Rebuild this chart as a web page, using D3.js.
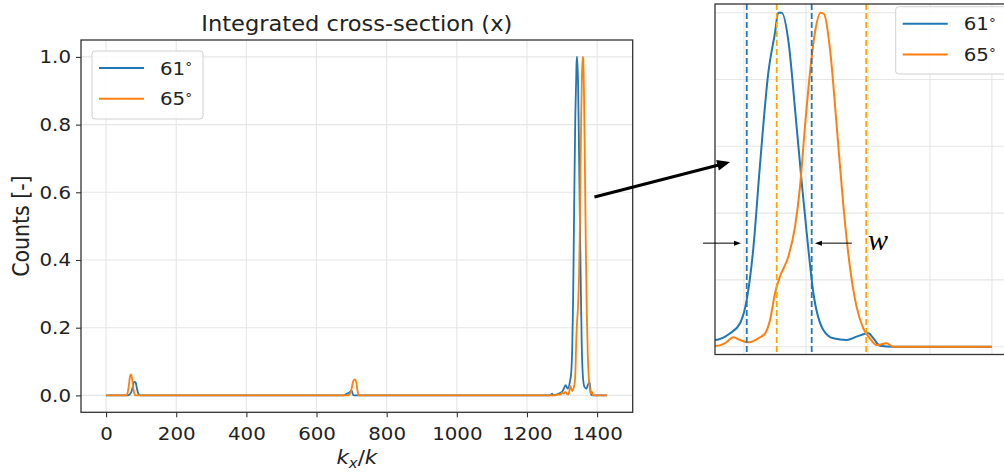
<!DOCTYPE html>
<html>
<head>
<meta charset="utf-8">
<script src="https://cdn.jsdelivr.net/npm/d3@7"></script>
<style>
  body { margin: 0; background: #fff; }
  svg { display: block; font-family: "DejaVu Sans", sans-serif; }
</style>
</head>
<body>
<div id="chart"></div>
<script>
// values
const kx61 = [0, 62, 67, 72, 76, 79, 82, 85, 88, 92, 96, 660, 678, 685, 692, 697, 700, 703, 706,
  1265, 1270, 1272, 1274, 1290, 1300, 1305, 1310, 1316.3, 1322.4, 1326.4, 1329.1, 1331.7, 1334.4,
  1337.8, 1340.5, 1341.8, 1343.2, 1346, 1348.6, 1351.3, 1353.3, 1356, 1360, 1364, 1369.4, 1373.4,
  1378.2, 1380.2, 1382.8, 1388.2, 1428];
const y61 = [0, 0, 0.003, 0.01, 0.025, 0.038, 0.04, 0.036, 0.02, 0.005, 0, 0, 0, 0.004, 0.008, 0.012, 0.015, 0.005, 0,
  0, 0.003, 0.005, 0, 0.005, 0.01, 0.02, 0.03, 0.02, 0.04, 0.07, 0.14, 0.29, 0.54,
  0.82, 0.94, 1.0, 1.0, 0.91, 0.71, 0.49, 0.34, 0.16, 0.05, 0.025, 0.02, 0.03,
  0.04, 0.025, 0.003, 0, 0];

const kx65 = [0, 58, 62, 65, 68, 71, 74, 77, 80, 84, 690, 698, 702, 705, 709, 713, 716, 720,
  1280, 1290, 1295, 1300, 1305, 1310, 1316.3, 1320.3, 1323.7, 1326.4, 1329.7, 1333.8, 1336.5, 1338.5,
  1340.5, 1342.5, 1345.9, 1348.6, 1350.6, 1352.6, 1354.6, 1356.6, 1358.9, 1360.3, 1362.7, 1365.4,
  1368.1, 1370.7, 1373.4, 1376.1, 1378.8, 1381.5, 1385.5, 1388.2, 1428];
const y65 = [0, 0, 0.01, 0.03, 0.055, 0.062, 0.05, 0.025, 0.008, 0, 0, 0.01, 0.03, 0.043, 0.047, 0.04, 0.02, 0,
  0, 0.003, 0.002, 0.008, 0.005, 0.01, 0.002, 0.01, 0.028, 0.02, 0.013, 0.025, 0.04, 0.08,
  0.16, 0.21, 0.27, 0.36, 0.48, 0.66, 0.82, 0.94, 1.0, 0.996, 0.89, 0.66,
  0.42, 0.24, 0.12, 0.055, 0.025, 0.005, 0.01, 0, 0];

const labels = ["61", "65"];
const colors = ["#1f77b4", "#ff7f0e"];
const xTicks = [0, 200, 400, 600, 800, 1000, 1200, 1400];
const yTicks = [0, 0.2, 0.4, 0.6, 0.8, 1.0];
const insetGridX = [1328, 1353, 1378, 1403, 1428];
const edges61 = [1329.1, 1355.3];   // dashed blue
const edges65 = [1341.2, 1377.3];   // dashed orange

const series = [
  {label: labels[0], color: colors[0], pts: kx61.map((k, i) => [k, y61[i]])},
  {label: labels[1], color: colors[1], pts: kx65.map((k, i) => [k, y65[i]])}
];

const width = 1004, height = 472;
const sx = 1.1; // picture is a bit wider than tall

const svg = d3.select("#chart").append("svg")
  .attr("width", width).attr("height", height);

function stretch(sel) {
  sel.each(function () {
    const t = d3.select(this);
    const x = +t.attr("x") || 0, y = +t.attr("y") || 0;
    t.attr("transform", `translate(${x},${y}) scale(${sx},1) translate(${-x},${-y})`);
  });
}

// ---------- main plot
const m = {l: 81, r: 632.7, t: 40, b: 412.3};
const x = d3.scaleLinear([-71.5, 1501.5], [m.l, m.r]);
const y = d3.scaleLinear([-0.05, 1.05], [m.b, m.t]);

const grid = svg.append("g").attr("stroke", "#e6e6e6").attr("stroke-width", 1.1);
grid.selectAll(".gx").data(xTicks).join("line")
  .attr("x1", d => x(d)).attr("x2", d => x(d)).attr("y1", m.t).attr("y2", m.b);
grid.selectAll(".gy").data(yTicks).join("line")
  .attr("y1", d => y(d)).attr("y2", d => y(d)).attr("x1", m.l).attr("x2", m.r);

const line = d3.line().x(d => x(d[0])).y(d => y(d[1])).curve(d3.curveMonotoneX);
svg.append("g").selectAll("path").data(series).join("path")
  .attr("d", d => line(d.pts))
  .attr("fill", "none").attr("stroke", d => d.color).attr("stroke-width", 1.8);

const xAxis = svg.append("g").attr("transform", `translate(0,${m.b})`)
  .call(d3.axisBottom(x).tickValues(xTicks).tickSize(5).tickPadding(9.5).tickFormat(d3.format("d")));
const yAxis = svg.append("g").attr("transform", `translate(${m.l},0)`)
  .call(d3.axisLeft(y).tickValues(yTicks).tickSize(5).tickPadding(5).tickFormat(d3.format(".1f")));
[xAxis, yAxis].forEach(a => {
  a.select(".domain").remove();
  a.selectAll("line").attr("stroke", "#333").attr("stroke-width", 1.1);
  a.selectAll("text").attr("font-size", 18).attr("fill", "#222")
    .attr("font-family", "DejaVu Sans, sans-serif").call(stretch);
});

svg.append("rect").attr("x", m.l).attr("y", m.t)
  .attr("width", m.r - m.l).attr("height", m.b - m.t)
  .attr("fill", "none").attr("stroke", "#333").attr("stroke-width", 1.3);

svg.append("text").attr("x", (m.l + m.r) / 2).attr("y", 31.5)
  .attr("text-anchor", "middle").attr("font-size", 20.5).attr("fill", "#222")
  .text("Integrated cross-section (x)").call(stretch);

svg.append("text")
  .attr("transform", `translate(29.4,${(m.t + m.b) / 2}) scale(${sx},1) rotate(-90)`)
  .attr("text-anchor", "middle").attr("font-size", 20.5).attr("fill", "#222")
  .text("Counts [-]");

const xl = svg.append("text").attr("x", (m.l + m.r) / 2).attr("y", 464)
  .attr("text-anchor", "middle").attr("font-size", 19.5).attr("fill", "#222");
xl.append("tspan").attr("font-style", "italic").text("k");
xl.append("tspan").attr("font-style", "italic").attr("font-size", 13.5).attr("dy", 4).text("x");
xl.append("tspan").attr("dy", -4).text("/");
xl.append("tspan").attr("font-style", "italic").text("k");
xl.call(stretch);

function legend(g, x0, y0, w, h) {
  g.append("rect").attr("x", x0).attr("y", y0).attr("width", w).attr("height", h)
    .attr("rx", 3).attr("fill", "#fff").attr("fill-opacity", 0.85)
    .attr("stroke", "#d0d0d0").attr("stroke-width", 1);
  const it = g.selectAll(".it").data(series).join("g")
    .attr("transform", (d, i) => `translate(0,${y0 + 17 + i * 30.7})`);
  it.append("line").attr("x1", x0 + 7).attr("x2", x0 + 52)
    .attr("stroke", d => d.color).attr("stroke-width", 2);
  const t = it.append("text").attr("x", x0 + 68).attr("y", 6.6)
    .attr("font-size", 18).attr("fill", "#222");
  t.append("tspan").text(d => d.label);
  t.append("tspan").attr("font-size", 12.5).attr("dy", -3.8).text("°");
  t.call(stretch);
}
legend(svg.append("g"), 92, 51, 111, 68);

// ---------- inset (zoom on the main peaks)
const n = {l: 715, r: 1012, t: 4, b: 354.5};
const xi = d3.scaleLinear([1316.3, 1436.1], [n.l, n.r]);
const yi = d3.scaleLinear([-0.0234, 1.026], [n.b, n.t]);

svg.append("defs").append("clipPath").attr("id", "clipInset")
  .append("rect").attr("x", n.l).attr("y", n.t).attr("width", n.r - n.l).attr("height", n.b - n.t);

const ig = svg.append("g");
ig.append("rect").attr("x", n.l).attr("y", n.t).attr("width", n.r - n.l).attr("height", n.b - n.t)
  .attr("fill", "#fff");
const igrid = ig.append("g").attr("stroke", "#e6e6e6").attr("stroke-width", 1.1);
igrid.selectAll(".gx").data(insetGridX).join("line")
  .attr("x1", d => xi(d)).attr("x2", d => xi(d)).attr("y1", n.t).attr("y2", n.b);
igrid.selectAll(".gy").data(yTicks).join("line")
  .attr("y1", d => yi(d)).attr("y2", d => yi(d)).attr("x1", n.l).attr("x2", n.r);

const lineI = d3.line().x(d => xi(d[0])).y(d => yi(d[1])).curve(d3.curveMonotoneX);
const ic = ig.append("g").attr("clip-path", "url(#clipInset)");
ic.selectAll(".s").data(series).join("path")
  .attr("d", d => lineI(d.pts))
  .attr("fill", "none").attr("stroke", d => d.color).attr("stroke-width", 2);

const dashes = [
  ...edges61.map(v => ({v, c: "#1f77b4"})),
  ...edges65.map(v => ({v, c: "#ffa500"}))
];
ic.selectAll(".dash").data(dashes).join("line")
  .attr("x1", d => xi(d.v)).attr("x2", d => xi(d.v)).attr("y1", n.t).attr("y2", n.b)
  .attr("stroke", d => d.c).attr("stroke-width", 1.8).attr("stroke-dasharray", "6,3");

ig.append("rect").attr("x", n.l).attr("y", n.t).attr("width", n.r - n.l).attr("height", n.b - n.t)
  .attr("fill", "none").attr("stroke", "#333").attr("stroke-width", 1.3);

legend(ig, 895.7, 6.7, 130, 67.3);

// ---------- annotations
function arrow(x1, y1, x2, y2, sw, hl, hw) {
  const a = Math.atan2(y2 - y1, x2 - x1), c = Math.cos(a), s = Math.sin(a);
  svg.append("line").attr("x1", x1).attr("y1", y1)
    .attr("x2", x2 - c * hl * 0.6).attr("y2", y2 - s * hl * 0.6)
    .attr("stroke", "#000").attr("stroke-width", sw);
  const bx = x2 - c * hl, by = y2 - s * hl;
  svg.append("path")
    .attr("d", `M${x2},${y2}L${bx - s * hw / 2},${by + c * hw / 2}L${bx + s * hw / 2},${by - c * hw / 2}Z`)
    .attr("fill", "#000");
}
// main peak -> inset
arrow(x(1392.5), y(0.586), xi(1322.4), yi(0.553), 3, 13, 11);
// width markers
const wy = 0.31;
arrow(xi(1311.5), yi(wy), xi(1326.8), yi(wy), 1, 7, 5);
arrow(xi(1371.5), yi(wy), xi(1356.6), yi(wy), 1, 7, 5);
svg.append("text").attr("x", xi(1378)).attr("y", yi(wy) + 7)
  .attr("font-family", "Liberation Serif, serif").attr("font-style", "italic")
  .attr("font-size", 30).attr("fill", "#000").text("w");
</script>
</body>
</html>
